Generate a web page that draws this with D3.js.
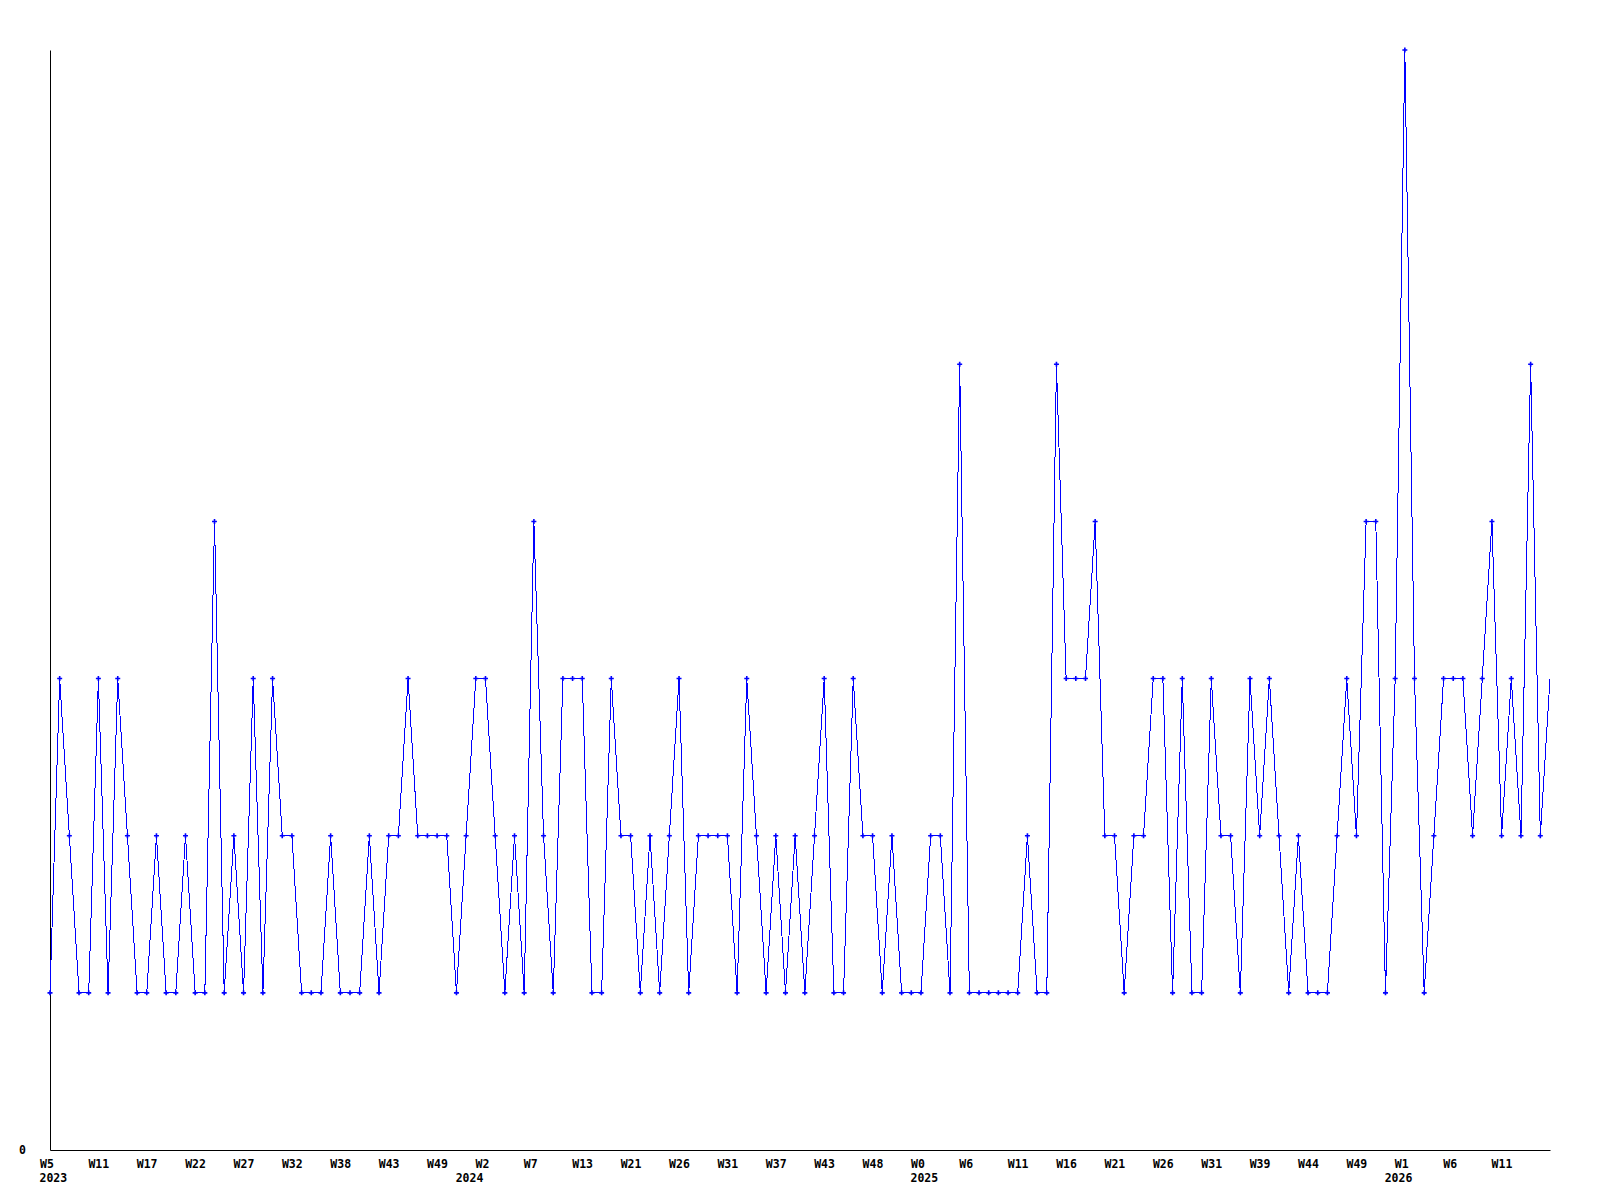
<!DOCTYPE html>
<html>
<head>
<meta charset="utf-8">
<script src="https://cdn.jsdelivr.net/npm/d3@7"></script>
<style>
  body { margin: 0; background: #ffffff; }
  svg { display: block; }
  text { font-family: "DejaVu Sans Mono", monospace; font-weight: bold; font-size: 11.5px; fill: #000000; }
</style>
</head>
<body>
<script>
'use strict';

// weekly counts, one point for each week that had activity (empty weeks are skipped)
const weekValues = [
  1, 3, 2, 1, 1, 3, 1, 3, 2, 1,
  1, 2, 1, 1, 2, 1, 1, 4, 1, 2,
  1, 3, 1, 3, 2, 2, 1, 1, 1, 2,
  1, 1, 1, 2, 1, 2, 2, 3, 2, 2,
  2, 2, 1, 2, 3, 3, 2, 1, 2, 1,
  4, 2, 1, 3, 3, 3, 1, 1, 3, 2,
  2, 1, 2, 1, 2, 3, 1, 2, 2, 2,
  2, 1, 3, 2, 1, 2, 1, 2, 1, 2,
  3, 1, 1, 3, 2, 2, 1, 2, 1, 1,
  1, 2, 2, 1, 5, 1, 1, 1, 1, 1,
  1, 2, 1, 1, 5, 3, 3, 3, 4, 2,
  2, 1, 2, 2, 3, 3, 1, 3, 1, 1,
  3, 2, 2, 1, 3, 2, 3, 2, 1, 2,
  1, 1, 1, 2, 3, 2, 4, 4, 1, 3,
  7, 3, 1, 2, 3, 3, 3, 2, 3, 4,
  2, 3, 2, 5, 2, 3
];

// week labels, written under every fifth point
const weekTicks = [
  "W5", "W11", "W17", "W22", "W27", "W32", "W38", "W43", "W49",
  "W2", "W7", "W13", "W21", "W26", "W31", "W37", "W43", "W48",
  "W0", "W6", "W11", "W16", "W21", "W26", "W31", "W39", "W44", "W49",
  "W1", "W6", "W11"
];

// years and the point where each one starts
const yearNames = ["2023", "2024", "2025", "2026"];
const yearStarts = [0, 43, 90, 139];

// value axis
const yTicks = [0];
const yMax = 7;

(function() {

  let svgContainer = ""; // keep SVG reference in outer scope

  window.onload = function() {
    svgContainer = d3.select('body')
      .append('svg')
      .attr('width', 1600)
      .attr('height', 1200);

    let mapFunctions = drawAxes();
    plotData(mapFunctions);
    makeLabels(mapFunctions);
  }

  // draw both axes and return the scales
  function drawAxes() {
    let xScale = d3.scaleLinear()
      .domain([0, weekValues.length - 1])
      .range([50, 1550]);

    let yScale = d3.scaleLinear()
      .domain([0, yMax])
      .range([1150, 50]);

    // y axis, only the zero label
    svgContainer.append('g')
      .attr('transform', 'translate(50, 0)')
      .call(d3.axisLeft(yScale)
        .tickValues(yTicks)
        .tickFormat(d3.format('d'))
        .tickSize(0)
        .tickPadding(24))
      .call(g => g.selectAll('text').attr('font-family', null).attr('font-size', null));

    // x axis with week labels, text starts a bit left of the point
    let tickIdx = weekTicks.map((w, i) => i * 5);
    svgContainer.append('g')
      .attr('transform', 'translate(0, 1150)')
      .call(d3.axisBottom(xScale)
        .tickValues(tickIdx)
        .tickFormat((d, i) => weekTicks[i])
        .tickSize(0))
      .call(g => g.selectAll('text')
        .attr('font-family', null)
        .attr('font-size', null)
        .attr('text-anchor', 'start')
        .attr('x', -10.5)
        .attr('y', 17.5)
        .attr('dy', null));

    return { x: xScale, y: yScale };
  }

  // blue line with small cross markers
  function plotData(map) {
    let valueline = d3.line()
      .x((d, i) => map.x(i))
      .y((d) => map.y(d));

    svgContainer.append('path')
      .datum(weekValues)
      .attr('d', valueline)
      .style('fill', 'none')
      .style('stroke', '#0000ff')
      .style('stroke-width', '1px')
      .style('shape-rendering', 'crispEdges');

    // last week has no marker in the original
    svgContainer.selectAll('.marker')
      .data(weekValues.slice(0, -1))
      .enter()
      .append('path')
        .attr('class', 'marker')
        .attr('transform', (d, i) => 'translate(' + map.x(i) + ',' + map.y(d) + ')')
        .attr('d', 'M-2.5,0H2.5M0,-2.5V2.5')
        .style('stroke', '#0000ff')
        .style('stroke-width', '1.6px');
  }

  // year labels on the second row
  function makeLabels(map) {
    svgContainer.selectAll('.year')
      .data(yearNames)
      .enter()
      .append('text')
        .attr('class', 'year')
        .attr('x', (d, i) => map.x(yearStarts[i]) - 10.5)
        .attr('y', 1182)
        .text((d) => d);
  }

})();
</script>
</body>
</html>
